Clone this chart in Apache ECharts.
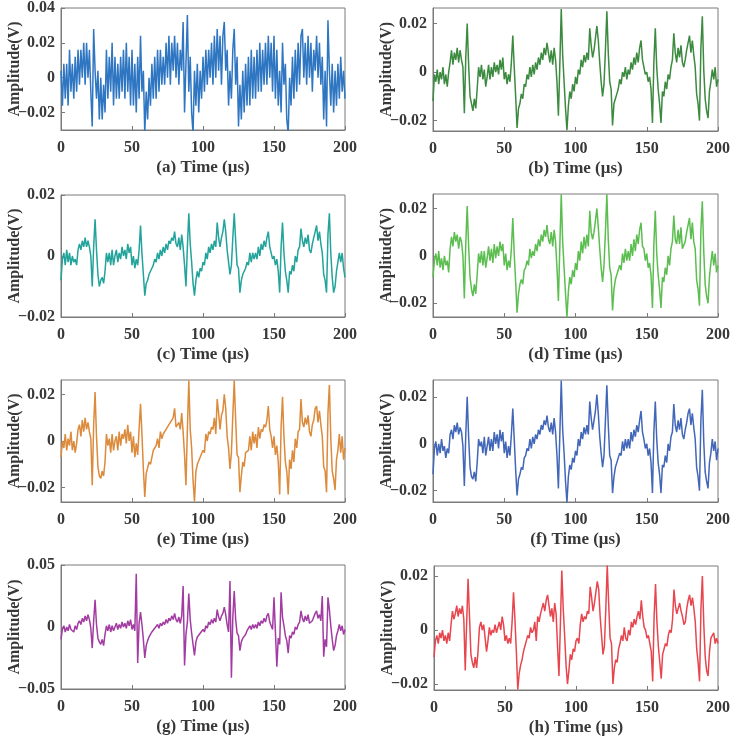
<!DOCTYPE html>
<html><head><meta charset="utf-8">
<script src="https://cdn.jsdelivr.net/npm/echarts@6/dist/echarts.min.js"></script>
<style>html,body{margin:0;padding:0;background:#fff}#c{width:737px;height:739px}</style>
</head><body><div id="c"></div>
<script>
// time samples (µs), one per microsecond from 0 to 200
const timeUs = [];
for (let i = 0; i <= 200; i++) timeUs.push(i);
const xTickValues = [0, 50, 100, 150, 200];
const panelTitles = ['(a) Time (μs)', '(b) Time (μs)', '(c) Time (μs)', '(d) Time (μs)',
                     '(e) Time (μs)', '(f) Time (μs)', '(g) Time (μs)', '(h) Time (μs)'];
const yAxisTitle = 'Amplitude(V)';

const ampA = [0.004,-0.016,0.008,-0.012,0.008,-0.016,0.016,-0.008,0.008,-0.012,
0.012,-0.008,0.016,-0.004,0.016,0,0.02,-0.004,0.02,0,
0.016,-0.008,-0.028,0.028,0.004,-0.012,0.004,-0.024,0,-0.024,
-0.004,-0.02,0.016,-0.012,0.012,-0.008,0.02,-0.016,0.012,-0.012,
0.008,-0.012,0.012,-0.008,0.016,-0.012,0.02,-0.008,0.012,-0.016,
0.016,-0.016,0.008,-0.02,0.012,-0.012,0.024,-0.008,0.004,-0.032,
-0.008,-0.024,0,-0.016,0.008,-0.012,0.012,-0.012,0.016,-0.008,
0.016,-0.004,0.012,-0.004,0.02,0,0.024,-0.004,0.02,0.004,
0.024,0,0.02,-0.004,0.016,0.004,0.032,-0.02,0.008,0.036,
-0.008,0.012,-0.02,-0.032,0.004,-0.016,0.008,-0.02,0.004,-0.012,
0.012,-0.008,0.016,-0.004,0.016,0,0.02,-0.004,0.024,0,
0.028,0.004,0.024,-0.004,0.024,0.032,0.004,0.016,-0.016,0.004,
-0.012,0.016,0.028,-0.004,0.012,-0.028,-0.004,-0.024,0.004,-0.02,
0.008,-0.016,0.012,-0.016,0.016,-0.012,0.012,-0.012,0.016,-0.008,
0.02,-0.008,0.016,-0.004,0.02,-0.004,0.024,0,0.02,-0.008,
0.024,-0.012,0.016,-0.016,0.004,-0.02,0.02,-0.004,0.008,-0.024,
-0.032,0,-0.016,0.012,-0.012,0.016,-0.008,0.02,-0.004,0.024,
0.028,0,0.02,-0.004,0.024,0,0.02,-0.008,0.016,0.004,
0.024,0,0.02,-0.004,0.012,-0.024,0.004,-0.028,0.033,0.004,
-0.016,0.008,-0.02,0.004,-0.016,0.008,-0.012,0.012,-0.008,0.004,
-0.012];

const ampB = [-0.012,-0.001,-0.004,0.001,-0.005,0,-0.003,0.002,-0.005,-0.001,
-0.006,0,0.004,0.009,0.003,0.008,0.005,0.010,0.004,0.009,
0.005,0.002,-0.017,0.006,0.020,0.003,-0.010,-0.013,-0.016,-0.011,
-0.015,-0.007,0.002,-0.002,0.003,-0.003,0.001,-0.006,-0.002,0.003,
-0.003,0.002,-0.002,0.004,0,0.003,-0.001,0.005,0.001,0.006,
-0.003,0,-0.005,-0.001,-0.004,0.004,0.015,0.002,-0.010,-0.023,
-0.015,-0.013,-0.009,-0.011,-0.005,-0.006,-0.001,-0.003,0.002,-0.002,
0.003,-0.001,0.004,0.001,0.006,0.003,0.008,0.005,0.010,0.007,
0.012,0.008,0.004,0.009,0.003,0.010,0.005,-0.004,-0.018,0.003,
0.026,0.007,-0.004,-0.015,-0.024,-0.014,-0.008,-0.011,-0.005,-0.008,
-0.002,-0.005,0.001,-0.001,0.005,0.002,0.007,0.004,0.008,0.005,
0.018,0.011,0.006,0.009,0.014,0.019,0.013,0.004,-0.004,-0.010,
-0.005,0.009,0.025,0.008,-0.004,-0.007,-0.022,-0.013,-0.011,-0.009,
-0.007,-0.003,-0.005,0,-0.002,0.002,-0.003,0.001,-0.001,0.004,
0.001,0.006,0.003,0.008,0.004,0.010,0.013,0.005,0.002,-0.001,
0,-0.004,-0.002,-0.007,-0.021,0.004,0.018,0.002,-0.007,-0.013,
-0.021,-0.008,-0.010,-0.004,-0.007,-0.001,-0.003,0.002,0.005,0.016,
0.008,0.004,0.010,0.006,0.011,0.004,0.002,0.005,0.009,0.012,
0.015,0.008,0.013,0.007,0.002,-0.009,-0.013,-0.020,0.010,0.023,
0.001,-0.011,-0.016,-0.019,-0.008,-0.004,0.001,-0.003,0.002,-0.006,
-0.003];

const ampC = [-0.008,-0.001,0.001,-0.003,0.002,-0.002,0.001,-0.003,0,-0.002,
-0.001,-0.003,0.002,0.004,0.002,0.005,0.003,0.006,0.003,0.005,
0.003,0,-0.010,0.003,0.012,0.002,-0.006,-0.010,-0.008,-0.007,
-0.009,-0.005,0.001,-0.002,0.001,-0.003,0.002,-0.003,0,0.002,
-0.002,0.001,-0.001,0.003,0,0.002,-0.001,0.004,0.001,0.003,
-0.003,0,-0.004,-0.001,-0.003,0.002,0.010,0.001,-0.006,-0.013,
-0.009,-0.008,-0.006,-0.006,-0.004,-0.003,-0.001,-0.002,0.001,-0.001,
0.002,0,0.003,0.001,0.004,0.002,0.005,0.004,0.006,0.005,
0.008,0.004,0.003,0.006,0.002,0.007,0.003,-0.003,-0.010,0.003,
0.014,0.004,-0.002,-0.009,-0.013,-0.008,-0.005,-0.007,-0.004,-0.005,
-0.002,-0.003,0.001,-0.001,0.003,0.001,0.004,0.002,0.005,0.003,
0.011,0.006,0.003,0.006,0.008,0.012,0.008,0.002,-0.002,-0.006,
-0.003,0.006,0.014,0.005,-0.003,-0.004,-0.012,-0.008,-0.006,-0.006,
-0.004,-0.002,-0.003,0.001,-0.002,0.001,-0.001,0.001,-0.001,0.003,
0,0.004,0.002,0.005,0.003,0.006,0.008,0.003,0.001,-0.001,
0,-0.003,-0.001,-0.005,-0.012,0.003,0.011,0.001,-0.005,-0.008,
-0.012,-0.005,-0.006,-0.003,-0.005,0,-0.002,0.002,0.003,0.009,
0.005,0.003,0.006,0.004,0.007,0.002,0.001,0.004,0.006,0.008,
0.010,0.005,0.008,0.004,0.001,-0.006,-0.008,-0.012,0.007,0.014,
0.001,-0.007,-0.012,-0.010,-0.005,-0.002,0.001,-0.002,0.001,-0.004,
-0.007];

const ampD = [-0.009,-0.002,0.001,-0.004,0.002,-0.005,-0.001,-0.006,0,-0.004,
-0.002,-0.007,0.003,0.008,0.004,0.010,0.006,0.009,0.003,0.008,
0.006,0,-0.018,0.005,0.021,0.004,-0.009,-0.014,-0.017,-0.012,
-0.016,-0.008,0.001,-0.003,0.002,-0.004,0.002,-0.005,-0.001,0.004,
-0.002,0.003,-0.003,0.005,-0.001,0.004,0,0.006,0.002,0.005,
-0.004,0.001,-0.006,-0.002,-0.005,0.003,0.016,0.001,-0.011,-0.024,
-0.016,-0.012,-0.010,-0.012,-0.006,-0.005,-0.002,-0.004,0.003,-0.001,
0.002,0,0.005,0.002,0.007,0.004,0.009,0.006,0.011,0.008,
0.013,0.007,0.005,0.010,0.004,0.011,0.006,-0.005,-0.019,0.004,
0.026,0.006,-0.005,-0.016,-0.026,-0.015,-0.009,-0.012,-0.006,-0.009,
-0.003,-0.006,0.002,-0.002,0.006,0.001,0.008,0.003,0.009,0.004,
0.019,0.010,0.007,0.010,0.015,0.020,0.012,0.003,-0.005,-0.011,
-0.004,0.010,0.026,0.007,-0.005,-0.008,-0.023,-0.014,-0.010,-0.010,
-0.006,-0.004,-0.006,0.001,-0.003,0.003,-0.002,0.002,-0.002,0.005,
0,0.007,0.002,0.009,0.005,0.011,0.014,0.004,0.003,-0.002,
0.001,-0.005,-0.003,-0.008,-0.022,0.005,0.019,0.001,-0.008,-0.014,
-0.022,-0.009,-0.011,-0.005,-0.008,0,-0.004,0.003,0.006,0.017,
0.007,0.005,0.011,0.005,0.012,0.003,0.003,0.006,0.010,0.013,
0.016,0.007,0.014,0.006,0.003,-0.010,-0.014,-0.021,0.011,0.023,
0.002,-0.012,-0.017,-0.020,-0.009,-0.003,0.002,-0.004,0.001,-0.007,
-0.004];

const ampE = [-0.007,0,-0.003,0.003,-0.004,0.001,-0.002,0.004,-0.004,0,
-0.005,-0.001,0.005,0.007,0.002,0.009,0.004,0.010,0.005,0.008,
0.004,0.001,-0.019,0.007,0.021,0.002,-0.011,-0.015,-0.016,-0.013,
-0.015,-0.009,0.003,-0.002,0.001,-0.005,0.003,-0.004,0,0.002,
-0.004,0.004,-0.002,0.003,0.001,0.005,-0.001,0.007,0,0.004,
-0.005,0.002,-0.007,-0.001,-0.006,0.005,0.016,0.003,-0.012,-0.024,
-0.014,-0.014,-0.009,-0.010,-0.007,-0.004,-0.003,-0.002,0.001,-0.003,
0.004,0.001,0.003,0.003,0.005,0.005,0.007,0.008,0.009,0.010,
0.014,0.006,0.006,0.008,0.005,0.012,0.004,-0.006,-0.019,0.005,
0.026,0.005,-0.003,-0.017,-0.026,-0.013,-0.010,-0.010,-0.007,-0.007,
-0.004,-0.005,0.003,0,0.004,0.003,0.006,0.005,0.010,0.003,
0.018,0.012,0.005,0.011,0.013,0.020,0.014,0.002,-0.003,-0.012,
-0.005,0.011,0.026,0.009,-0.006,-0.007,-0.022,-0.015,-0.009,-0.011,
-0.005,-0.005,-0.004,0.002,-0.004,0.004,-0.001,0.003,-0.003,0.006,
0.001,0.005,0.004,0.007,0.006,0.009,0.015,0.005,0.002,-0.003,
0.002,-0.006,-0.002,-0.009,-0.023,0.006,0.019,0.002,-0.009,-0.013,
-0.023,-0.008,-0.012,-0.004,-0.009,0.001,-0.003,0.004,0.005,0.018,
0.008,0.006,0.010,0.007,0.011,0.004,0.002,0.007,0.009,0.014,
0.015,0.008,0.013,0.007,0.002,-0.011,-0.013,-0.022,0.012,0.024,
0.001,-0.013,-0.016,-0.021,-0.008,-0.004,0.003,-0.005,0.002,-0.008,
-0.003];

const ampF = [-0.013,-0.002,0.001,-0.005,0,-0.004,0.002,-0.003,-0.001,-0.006,
-0.002,-0.004,0.004,0.006,0.002,0.008,0.005,0.009,0.004,0.007,
0.005,-0.001,-0.018,0.004,0.020,0.003,-0.010,-0.014,-0.015,-0.012,
-0.016,-0.008,0.002,-0.001,0.001,-0.004,0.003,-0.005,-0.001,0.003,
-0.003,0.002,-0.003,0.005,0,0.004,-0.002,0.006,0.001,0.005,
-0.004,0.001,-0.006,-0.001,-0.005,0.004,0.015,0.002,-0.011,-0.022,
-0.015,-0.013,-0.010,-0.011,-0.006,-0.005,-0.002,-0.003,0.002,-0.002,
0.003,0,0.004,0.002,0.006,0.004,0.008,0.006,0.010,0.008,
0.012,0.007,0.005,0.009,0.004,0.011,0.005,-0.005,-0.019,0.004,
0.027,0.006,-0.004,-0.016,-0.025,-0.014,-0.009,-0.011,-0.006,-0.008,
-0.003,-0.005,0.002,-0.001,0.005,0.002,0.007,0.004,0.008,0.004,
0.018,0.011,0.006,0.010,0.014,0.021,0.013,0.003,-0.004,-0.010,
-0.005,0.010,0.025,0.008,-0.005,-0.007,-0.021,-0.014,-0.010,-0.010,
-0.006,-0.004,-0.005,0.001,-0.003,0.002,-0.002,0.002,-0.002,0.005,
0.001,0.006,0.003,0.008,0.005,0.010,0.014,0.005,0.002,-0.002,
0,-0.005,-0.002,-0.008,-0.021,0.005,0.018,0.002,-0.008,-0.013,
-0.021,-0.009,-0.010,-0.005,-0.008,0,-0.003,0.003,0.005,0.017,
0.008,0.005,0.010,0.006,0.011,0.004,0.002,0.006,0.009,0.013,
0.015,0.008,0.013,0.007,0.002,-0.010,-0.014,-0.020,0.010,0.023,
0.001,-0.012,-0.016,-0.019,-0.008,-0.004,0.002,-0.003,0.001,-0.007,
-0.002];

const ampG = [-0.010,-0.002,0.001,-0.004,0,-0.003,0.002,-0.002,-0.001,-0.004,
0.001,-0.002,0.003,0.005,0.002,0.007,0.004,0.009,0.005,0.010,
0.006,-0.001,-0.017,0.005,0.022,0.002,-0.009,-0.012,-0.014,-0.010,
-0.015,-0.006,0.001,-0.003,0.002,-0.004,0.001,-0.003,0,0.003,
-0.002,0.002,-0.001,0.004,0,0.003,-0.001,0.005,0.001,0.006,
-0.002,0.002,-0.003,0.043,-0.029,0.003,0.012,0.002,-0.010,-0.025,
-0.015,-0.011,-0.008,-0.009,-0.004,-0.005,-0.001,-0.002,0.002,-0.001,
0.003,0.001,0.004,0.002,0.006,0.003,0.007,0.005,0.009,0.006,
0.011,0.006,0.004,0.008,0.003,0.009,0.033,-0.031,-0.006,0.004,
0.027,0.006,-0.005,-0.014,-0.023,-0.012,-0.008,-0.009,-0.005,-0.006,
-0.002,-0.004,0.001,-0.001,0.004,0.002,0.006,0.003,0.007,0.004,
0.014,0.008,0.005,0.009,0.011,0.016,0.010,0.002,-0.004,0.037,
-0.041,0.008,0.029,0.006,-0.005,-0.007,-0.019,-0.012,-0.009,-0.008,
-0.006,-0.003,-0.004,0.001,-0.002,0.002,-0.001,0.002,-0.001,0.004,
0.001,0.005,0.003,0.007,0.004,0.009,0.011,0.004,0.001,-0.002,
0.024,-0.004,-0.032,-0.009,-0.014,0.028,0.008,0.001,-0.007,-0.011,
-0.021,-0.007,-0.009,-0.004,-0.006,0,-0.002,0.002,0.004,0.013,
0.007,0.004,0.009,0.005,0.010,0.003,0.002,0.005,0.008,0.011,
0.013,0.007,0.010,0.005,0.025,-0.024,-0.010,-0.016,0.024,0.014,
0.001,-0.010,-0.019,-0.015,-0.007,-0.003,0.002,-0.003,0.001,-0.006,
-0.002];

const ampH = [-0.010,-0.004,-0.002,-0.005,-0.001,-0.003,0,-0.004,-0.002,-0.005,
-0.001,-0.004,0.002,0.007,0.004,0.006,0.009,0.005,0.008,0.006,
0.009,0.004,-0.015,0.003,0.019,0.005,-0.009,-0.012,-0.014,-0.010,
-0.014,-0.008,0.001,0.003,0,0.002,-0.003,-0.008,-0.004,0.001,
-0.002,0,-0.001,0.002,-0.001,0.001,0.003,0,0.005,0.002,
-0.004,-0.002,-0.005,-0.003,-0.005,0.003,0.014,0.004,-0.008,-0.022,
-0.016,-0.013,-0.011,-0.008,-0.006,-0.004,-0.002,-0.003,0.001,-0.001,
0,0.003,-0.004,0.005,0.003,0.006,0.008,0.010,0.007,0.011,
0.013,0.009,0.005,0.008,0.003,0.010,0.006,-0.006,-0.017,0.002,
0.022,0.008,-0.002,-0.013,-0.020,-0.015,-0.009,-0.011,-0.007,-0.008,
-0.004,-0.003,-0.005,0.002,0.006,0.003,0.005,0.004,0.007,0.006,
0.016,0.012,0.007,0.010,0.014,0.018,0.015,0.005,-0.002,-0.009,
-0.006,0.008,0.024,0.010,-0.003,-0.005,-0.020,-0.014,-0.011,-0.012,
-0.007,-0.005,-0.002,-0.004,0.001,-0.003,-0.004,0,-0.002,0.003,
0.001,0.004,0.002,0.005,0.007,0.004,0.011,0.005,0.001,0,
-0.003,-0.002,-0.005,-0.008,-0.019,0.005,0.017,0.003,-0.006,-0.012,
-0.018,-0.009,-0.007,-0.005,-0.006,-0.002,0,-0.001,0.004,0.015,
0.009,0.006,0.008,0.010,0.007,0.005,0.002,0.003,0.008,0.011,
0.013,0.009,0.012,0.008,0.003,-0.007,-0.012,-0.019,0.008,0.020,
0.002,-0.010,-0.015,-0.017,-0.008,-0.003,-0.002,-0.001,-0.005,-0.003,
-0.005];

// y-axis limits and tick labels per panel
const yLimA = [-0.03, 0.04],     yTicksA = [-0.02, 0, 0.02, 0.04];
const yLimB = [-0.0243, 0.0264], yTicksB = [-0.02, 0, 0.02];
const yLimC = [-0.02, 0.02],     yTicksC = [-0.02, 0, 0.02];
const yLimD = [-0.0258, 0.0261], yTicksD = [-0.02, 0, 0.02];
const yLimE = [-0.0262, 0.0262], yTicksE = [-0.02, 0, 0.02];
const yLimF = [-0.0248, 0.0272], yTicksF = [-0.02, 0, 0.02];
const yLimG = [-0.05, 0.05],     yTicksG = [-0.05, 0, 0.05];
const yLimH = [-0.0222, 0.0237], yTicksH = [-0.02, 0, 0.02];

const panels = [
  {vals: ampA, lim: yLimA, ticks: yTicksA, color: '#2f76c2', grid: {left: 61, top: 8, width: 284, height: 122}},
  {vals: ampB, lim: yLimB, ticks: yTicksB, color: '#3b8a3f', grid: {left: 433, top: 8, width: 285, height: 123}},
  {vals: ampC, lim: yLimC, ticks: yTicksC, color: '#22a39b', grid: {left: 61, top: 195, width: 284, height: 122}},
  {vals: ampD, lim: yLimD, ticks: yTicksD, color: '#5cbe50', grid: {left: 433, top: 194, width: 285, height: 123}},
  {vals: ampE, lim: yLimE, ticks: yTicksE, color: '#dc8a3b', grid: {left: 61, top: 380, width: 284, height: 122}},
  {vals: ampF, lim: yLimF, ticks: yTicksF, color: '#4267b8', grid: {left: 433, top: 380, width: 285, height: 122}},
  {vals: ampG, lim: yLimG, ticks: yTicksG, color: '#a23ca2', grid: {left: 61, top: 565, width: 284, height: 124}},
  {vals: ampH, lim: yLimH, ticks: yTicksH, color: '#e8464f', grid: {left: 434, top: 566, width: 284, height: 124}}
];

const FONT = 'Liberation Serif';
const TXT = '#383838';
const AX = '#7a7a7a';
const fmt = v => v === 0 ? '0' : (v < 0 ? '\u2212' : '') + Math.abs(v).toFixed(2);

const option = {
  animation: false,
  backgroundColor: '#fff',
  grid: [], xAxis: [], yAxis: [], series: []
};
panels.forEach((p, i) => {
  option.grid.push(Object.assign({show: true, borderColor: AX, borderWidth: 1, containLabel: false}, p.grid));
  option.xAxis.push({
    gridIndex: i, type: 'value', min: 0, max: 200, interval: 50,
    axisLine: {show: true, onZero: false, lineStyle: {color: AX}},
    axisTick: {show: true, inside: true, length: 4, lineStyle: {color: AX}, customValues: xTickValues},
    splitLine: {show: false},
    axisLabel: {color: TXT, fontFamily: FONT, fontWeight: 'bold', fontSize: 16, margin: 10, customValues: xTickValues},
    name: panelTitles[i], nameLocation: 'middle', nameGap: 29, nameMoveOverlap: false,
    nameTextStyle: {color: TXT, fontFamily: FONT, fontWeight: 'bold', fontSize: 17}
  });
  option.yAxis.push({
    gridIndex: i, type: 'value', min: p.lim[0], max: p.lim[1],
    axisLine: {show: true, onZero: false, lineStyle: {color: AX}},
    axisTick: {show: true, inside: true, length: 4, lineStyle: {color: AX}, customValues: p.ticks},
    splitLine: {show: false},
    axisLabel: {color: TXT, fontFamily: FONT, fontWeight: 'bold', fontSize: 16, margin: 6, customValues: p.ticks, formatter: fmt},
    name: yAxisTitle, nameLocation: 'middle', nameRotate: 90, nameGap: 38, nameMoveOverlap: false,
    nameTextStyle: {color: TXT, fontFamily: FONT, fontWeight: 'bold', fontSize: 16}
  });
  option.series.push({
    type: 'line', xAxisIndex: i, yAxisIndex: i,
    data: timeUs.map((t, k) => [t, p.vals[k]]),
    showSymbol: false, symbol: 'none', clip: true,
    lineStyle: {width: 1.5, color: p.color}
  });
});

const chart = echarts.init(document.getElementById('c'), null, {renderer: 'canvas'});
chart.setOption(option);
</script>
</body></html>
